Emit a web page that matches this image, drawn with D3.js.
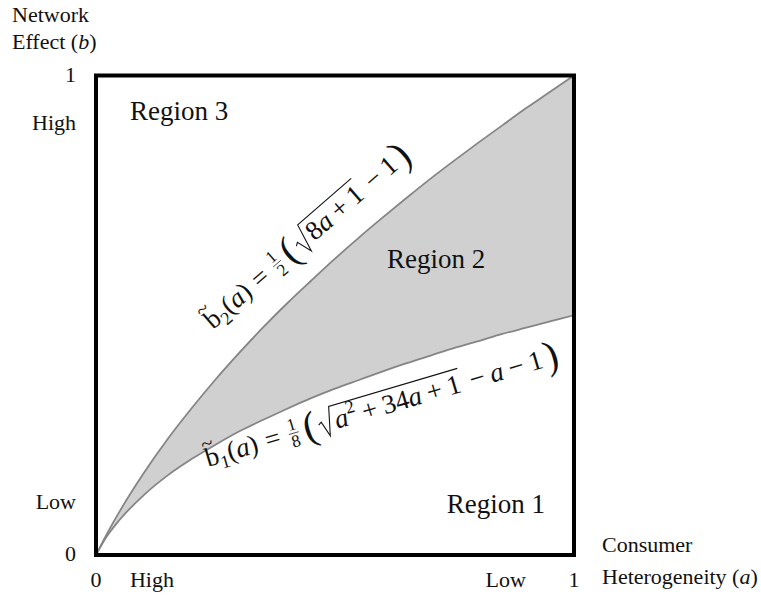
<!DOCTYPE html>
<html>
<head>
<meta charset="utf-8">
<script src="https://cdn.jsdelivr.net/npm/d3@7"></script>
<style>
  body { margin: 0; background: #fff; }
  text { font-family: "Liberation Serif", "Times New Roman", serif; fill: #111; white-space: pre; }
</style>
</head>
<body>
<div id="chart"></div>
<script>
// consumer heterogeneity a, and the two threshold curves
var aVals  = [0, 0.02, 0.05, 0.1, 0.15, 0.2, 0.25, 0.3, 0.35, 0.4, 0.45, 0.5, 0.55, 0.6, 0.65, 0.7, 0.75, 0.8, 0.85, 0.9, 0.95, 1];
var b1Vals = [0, 0.035, 0.074, 0.125, 0.166, 0.200, 0.230, 0.258, 0.282, 0.305, 0.327, 0.347, 0.365, 0.383, 0.400, 0.416, 0.432, 0.446, 0.461, 0.474, 0.487, 0.5];
var b2Vals = [0, 0.039, 0.092, 0.171, 0.242, 0.306, 0.366, 0.422, 0.475, 0.525, 0.572, 0.618, 0.662, 0.704, 0.745, 0.785, 0.823, 0.860, 0.896, 0.932, 0.966, 1];

var xTicks = [0, 1];
var yTicks = [0, 1];
var xQualLabels = ["High", "Low"];
var xQualPos = [0.117, 0.857];
var yQualLabels = ["High", "Low"];
var yQualPos = [0.9, 0.11];
var regionNames = ["Region 1", "Region 2", "Region 3"];

var data = aVals.map(function(a, i) { return { a: a, b1: b1Vals[i], b2: b2Vals[i] }; });

var margin = { top: 75.5, left: 96 };
var width = 478, height = 479.5;

var svg = d3.select("#chart").append("svg")
  .attr("width", 761)
  .attr("height", 600);

var g = svg.append("g")
  .attr("transform", "translate(" + margin.left + "," + margin.top + ")");

var x = d3.scaleLinear().domain([0, 1]).range([0, width]);
var y = d3.scaleLinear().domain([0, 1]).range([height, 0]);

var area = d3.area()
  .x(function(d) { return x(d.a); })
  .y0(function(d) { return y(d.b1); })
  .y1(function(d) { return y(d.b2); })
  .curve(d3.curveMonotoneX);

g.append("path").datum(data)
  .attr("d", area)
  .attr("fill", "#d0d0d0");

var line1 = d3.line().x(function(d) { return x(d.a); }).y(function(d) { return y(d.b1); }).curve(d3.curveMonotoneX);
var line2 = d3.line().x(function(d) { return x(d.a); }).y(function(d) { return y(d.b2); }).curve(d3.curveMonotoneX);

g.append("path").datum(data).attr("d", line1)
  .attr("fill", "none").attr("stroke", "#858585").attr("stroke-width", 1.8);
g.append("path").datum(data).attr("d", line2)
  .attr("fill", "none").attr("stroke", "#858585").attr("stroke-width", 1.8);

// frame
g.append("rect")
  .attr("x", 0).attr("y", 0)
  .attr("width", width).attr("height", height)
  .attr("fill", "none").attr("stroke", "#000").attr("stroke-width", 4);

// tick numbers
g.selectAll(".ytick").data(yTicks).enter().append("text")
  .attr("x", -20).attr("y", function(d) { return y(d); })
  .attr("dy", "0.28em").attr("text-anchor", "end")
  .style("font-size", "22px").text(function(d) { return d; });

g.selectAll(".xtick").data(xTicks).enter().append("text")
  .attr("x", function(d) { return x(d); }).attr("y", height + 32)
  .attr("text-anchor", "middle")
  .style("font-size", "22px").text(function(d) { return d; });

g.selectAll(".yqual").data(yQualLabels).enter().append("text")
  .attr("x", -20).attr("y", function(d, i) { return y(yQualPos[i]); })
  .attr("dy", "0.3em").attr("text-anchor", "end")
  .style("font-size", "22px").text(function(d) { return d; });

g.selectAll(".xqual").data(xQualLabels).enter().append("text")
  .attr("x", function(d, i) { return x(xQualPos[i]); }).attr("y", height + 32)
  .attr("text-anchor", "middle")
  .style("font-size", "22px").text(function(d) { return d; });

// axis titles
var yt = svg.append("text").attr("x", 12).attr("y", 22).style("font-size", "22px");
yt.append("tspan").text("Network");
var yt2 = svg.append("text").attr("x", 12).attr("y", 49).style("font-size", "22px");
yt2.append("tspan").text("Effect (");
yt2.append("tspan").style("font-style", "italic").text("b");
yt2.append("tspan").text(")");

svg.append("text").attr("x", 602).attr("y", 552).style("font-size", "22px").text("Consumer");
var xt = svg.append("text").attr("x", 602).attr("y", 584).style("font-size", "22px");
xt.append("tspan").text("Heterogeneity (");
xt.append("tspan").style("font-style", "italic").text("a");
xt.append("tspan").text(")");

// region names
g.append("text").attr("x", x(0.734)).attr("y", y(0.088)).style("font-size", "27px").text(regionNames[0]);
g.append("text").attr("x", x(0.609)).attr("y", y(0.599)).style("font-size", "27px").text(regionNames[1]);
g.append("text").attr("x", x(0.071)).attr("y", y(0.907)).style("font-size", "27px").text(regionNames[2]);

// small formula typesetter: lays pieces left to right, measuring as it goes
function typeset(parent, parts, fs, x0) {
  var cx = x0 || 0;
  parts.forEach(function(p) {
    if (p.frac) {
      var s = fs * 0.64;
      var n = parent.append("text").attr("y", -0.42 * fs).style("font-size", s + "px").text(p.frac[0]);
      var dd = parent.append("text").attr("y", 0.22 * fs).style("font-size", s + "px").text(p.frac[1]);
      var w = Math.max(n.node().getComputedTextLength(), dd.node().getComputedTextLength()) + 0.14 * fs;
      n.attr("x", cx + w / 2).attr("text-anchor", "middle");
      dd.attr("x", cx + w / 2).attr("text-anchor", "middle");
      parent.append("line")
        .attr("x1", cx + 0.04 * fs).attr("x2", cx + w - 0.04 * fs)
        .attr("y1", -0.3 * fs).attr("y2", -0.3 * fs)
        .attr("stroke", "#333").attr("stroke-width", 0.8);
      cx += w + 0.16 * fs;
    } else if (p.sqrt) {
      var start = cx;
      var inner = cx + 0.62 * fs;
      var end = typeset(parent, p.sqrt, fs, inner) + 0.05 * fs;
      parent.append("path")
        .attr("d", "M" + start + "," + (-0.32 * fs) +
          " L" + (start + 0.12 * fs) + "," + (-0.4 * fs) +
          " L" + (start + 0.3 * fs) + "," + (0.18 * fs) +
          " L" + (start + 0.55 * fs) + "," + (-0.88 * fs) +
          " L" + end + "," + (-0.88 * fs))
        .attr("fill", "none").attr("stroke", "#111").attr("stroke-width", 1.1);
      cx = end + 0.1 * fs;
    } else if (p.op) {
      cx += p.sp * fs;
      var o = parent.append("text").attr("x", cx).attr("y", 0)
        .style("font-size", fs + "px").text(p.op);
      cx += o.node().getComputedTextLength() + p.sp * fs;
    } else {
      var size = fs * (p.scale || 1);
      var yy = p.sub ? 0.22 * fs : (p.sup ? -0.42 * fs : (p.dy || 0) * fs);
      if (p.sub || p.sup) size = fs * 0.68;
      var t = parent.append("text").attr("x", cx).attr("y", yy)
        .style("font-size", size + "px").text(p.t);
      if (p.it) t.style("font-style", "italic");
      var tw = t.node().getComputedTextLength();
      if (p.tilde) {
        parent.append("text").attr("x", cx + tw * 0.4).attr("y", -0.58 * fs)
          .attr("text-anchor", "middle").style("font-size", (fs * 0.8) + "px").text("~");
      }
      cx += tw + (p.pad || 0) * fs;
    }
  });
  return cx;
}

var fs = 27;
var f2 = svg.append("g").attr("transform", "translate(213,330) rotate(-41)");
typeset(f2, [
  { t: "b", tilde: true }, { t: "2", sub: true }, { t: "(" }, { t: "a", it: true }, { t: ")" },
  { op: "=", sp: 0.3 }, { frac: ["1", "2"] },
  { t: "(", scale: 1.5, dy: 0.12, pad: 0.08 },
  { sqrt: [{ t: "8" }, { t: "a", it: true }, { op: "+", sp: 0.22 }, { t: "1" }] },
  { op: "\u2212", sp: 0.22 }, { t: "1", pad: 0.1 },
  { t: ")", scale: 1.5, dy: 0.12 }
], fs);

var f1 = svg.append("g").attr("transform", "translate(208,467) rotate(-16.5)");
typeset(f1, [
  { t: "b", tilde: true }, { t: "1", sub: true }, { t: "(" }, { t: "a", it: true }, { t: ")" },
  { op: "=", sp: 0.3 }, { frac: ["1", "8"] },
  { t: "(", scale: 1.5, dy: 0.12, pad: 0.08 },
  { sqrt: [{ t: "a", it: true }, { t: "2", sup: true }, { op: "+", sp: 0.22 }, { t: "34" }, { t: "a", it: true }, { op: "+", sp: 0.22 }, { t: "1" }] },
  { op: "\u2212", sp: 0.22 }, { t: "a", it: true }, { op: "\u2212", sp: 0.22 }, { t: "1", pad: 0.1 },
  { t: ")", scale: 1.5, dy: 0.12 }
], fs);
</script>
</body>
</html>
